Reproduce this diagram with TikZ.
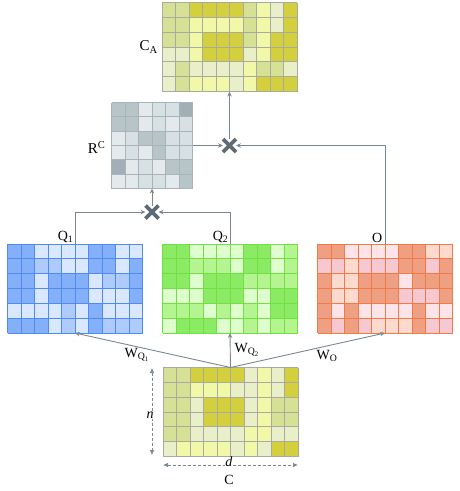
\documentclass[tikz,border=0pt]{standalone}
\usepackage{fontspec}
\setmainfont{Liberation Serif}
\usetikzlibrary{arrows.meta,shapes.misc}
\definecolor{Y1}{HTML}{D4CF3C}
\definecolor{Y2}{HTML}{D7E196}
\definecolor{Y3}{HTML}{F1F8A8}
\definecolor{Y4}{HTML}{E9EFC8}
\definecolor{YL}{HTML}{A9AAA0}
\definecolor{G1}{HTML}{A3AFB6}
\definecolor{G2}{HTML}{B7C5C8}
\definecolor{G3}{HTML}{D7E0E3}
\definecolor{G4}{HTML}{E4E9EC}
\definecolor{GL}{HTML}{A8B4BA}
\definecolor{B1}{HTML}{84B0FA}
\definecolor{B3}{HTML}{AECBFC}
\definecolor{B4}{HTML}{D9E8FF}
\definecolor{BL}{HTML}{4F8BF2}
\definecolor{K1}{HTML}{8CEB64}
\definecolor{K2}{HTML}{B4F591}
\definecolor{K3}{HTML}{DEFFCD}
\definecolor{KL}{HTML}{72E040}
\definecolor{O1}{HTML}{F0A082}
\definecolor{O2}{HTML}{F6C8D2}
\definecolor{O3}{HTML}{FDE4E9}
\definecolor{O4}{HTML}{FCDACD}
\definecolor{OL}{HTML}{F07A48}
\definecolor{arrc}{HTML}{7B8792}
\definecolor{crossc}{HTML}{5E6A74}
\newcommand\mkgrid[7]{% name, cols, rows, cellw, cellh, linecolor, rows of colours
  \begin{scope}[shift={(#1.north west)}]
    \foreach \rowlist [count=\r] in {#7} {
      \foreach \cc [count=\k] in \rowlist {
        \fill[\cc] ({(\k-1)*#4},{(\r-1)*#5}) rectangle ++(#4,#5);
      }
    }
    \foreach \i in {0,...,#2} {\draw[#6, line width=0.9pt] ({\i*#4},0) -- ({\i*#4},{#3*#5});}
    \foreach \j in {0,...,#3} {\draw[#6, line width=0.9pt] (0,{\j*#5}) -- ({#2*#4},{\j*#5});}
  \end{scope}}
\tikzset{
  mat/.style={inner sep=0pt, outer sep=0pt, minimum width=135pt, minimum height=89pt},
  lab/.style={inner sep=1pt, font=\fontsize{14}{16}\selectfont},
  biglab/.style={inner sep=1pt, font=\fontsize{15}{17}\selectfont},
  arr/.style={draw=arrc, line width=0.9pt, -{Stealth[length=5pt,width=4.5pt]}},
  mult/.style={cross out, draw=crossc, line width=3.6pt, minimum size=7pt, inner sep=0pt, outer sep=3pt},
  dim/.style={draw=arrc, line width=0.7pt, densely dashed, {Latex[length=5pt,width=4.5pt]}-{Latex[length=5pt,width=4.5pt]}},
}
\begin{document}
\begin{tikzpicture}[x=1pt,y=-1pt]
\useasboundingbox (0,0) rectangle (459,491);
% matrices
\node[mat] (CA) at (229.5,47) {};
\node[mat] (C) at (230.5,412) {};
\node[mat] (Q1) at (75,288.5) {};
\node[mat] (Q2) at (230,288.5) {};
\node[mat] (O) at (385,288.5) {};
\node[mat, minimum width=81pt, minimum height=86pt] (RC) at (152,145.5) {};
\mkgrid{CA}{10}{6}{13.5}{14.833}{YL}{{Y2,Y2,Y1,Y1,Y1,Y1,Y2,Y3,Y4,Y1},{Y2,Y2,Y3,Y3,Y3,Y3,Y2,Y3,Y4,Y1},{Y2,Y2,Y3,Y1,Y1,Y1,Y2,Y3,Y1,Y1},{Y4,Y4,Y3,Y1,Y1,Y1,Y4,Y3,Y1,Y1},{Y4,Y2,Y4,Y4,Y4,Y4,Y3,Y2,Y2,Y4},{Y4,Y2,Y3,Y3,Y3,Y4,Y3,Y1,Y1,Y1}}
\mkgrid{C}{10}{6}{13.5}{14.833}{YL}{{Y2,Y2,Y1,Y1,Y1,Y1,Y4,Y3,Y4,Y1},{Y2,Y2,Y3,Y3,Y3,Y4,Y4,Y3,Y4,Y1},{Y2,Y2,Y4,Y1,Y1,Y1,Y4,Y3,Y2,Y2},{Y2,Y2,Y4,Y1,Y1,Y1,Y4,Y3,Y2,Y2},{Y2,Y2,Y4,Y4,Y4,Y4,Y3,Y3,Y4,Y4},{Y4,Y3,Y3,Y3,Y3,Y4,Y3,Y4,Y1,Y1}}
\mkgrid{RC}{6}{6}{13.5}{14.333}{GL}{{G2,G2,G4,G3,G3,G1},{G2,G2,G4,G3,G4,G3},{G4,G3,G2,G2,G3,G3},{G4,G3,G4,G2,G3,G3},{G1,G4,G3,G4,G2,G2},{G4,G4,G3,G3,G4,G2}}
\mkgrid{Q1}{10}{6}{13.5}{14.833}{BL}{{B1,B1,B4,B4,B4,B4,B1,B1,B4,B4},{B1,B1,B3,B3,B4,B4,B1,B1,B4,B1},{B1,B1,B4,B1,B1,B1,B4,B3,B3,B1},{B1,B1,B4,B1,B1,B1,B4,B4,B4,B1},{B4,B4,B4,B4,B3,B4,B1,B4,B4,B4},{B1,B1,B1,B4,B3,B4,B1,B3,B3,B3}}
\mkgrid{Q2}{10}{6}{13.5}{14.833}{KL}{{K1,K1,K3,K3,K3,K3,K1,K1,K3,K2},{K1,K1,K2,K2,K2,K3,K1,K1,K3,K2},{K1,K1,K3,K1,K1,K1,K2,K2,K2,K2},{K3,K3,K3,K1,K1,K1,K3,K3,K1,K1},{K2,K2,K2,K3,K2,K3,K2,K3,K1,K1},{K3,K1,K1,K1,K3,K3,K2,K3,K2,K2}}
\mkgrid{O}{10}{6}{13.5}{14.833}{OL}{{O1,O1,O3,O3,O3,O3,O1,O1,O4,O4},{O2,O2,O4,O2,O2,O2,O1,O1,O2,O1},{O1,O4,O4,O1,O1,O1,O3,O1,O1,O1},{O1,O4,O4,O1,O1,O1,O2,O2,O2,O1},{O1,O3,O1,O3,O3,O3,O3,O1,O3,O3},{O1,O2,O1,O2,O4,O4,O4,O1,O2,O2}}
% multiplication marks
\node[mult] (x1) at (152,212) {};
\node[mult] (x2) at (229.5,145.5) {};
% labels
\node[biglab, anchor=east] (lCA) at ([xshift=-3pt]CA.west) {C\textsubscript{A}};
\node[biglab, anchor=east] (lRC) at ([xshift=-5pt,yshift=-2pt]RC.west) {R\textsuperscript{C}};
\node[lab, anchor=south east] (lQ1) at ([xshift=-0.5pt]Q1.north) {Q\textsubscript{1}};
\node[lab, anchor=south east] (lQ2) at ([xshift=-0.5pt]Q2.north) {Q\textsubscript{2}};
\node[lab, anchor=south east] (lO) at ([xshift=-1.5pt]O.north) {O};
% connectors
\draw[arr] (Q1.north) |- (x1);
\draw[arr] (Q2.north) |- (x1);
\draw[arr] (x1) -- (RC.south);
\draw[arr] (RC.east) -- (x2);
\draw[arr] (O.north) |- (x2);
\draw[arr] (x2) -- (CA.south);
\draw[arr] (C.north) -- (Q1.south);
\draw[arr] (C.north) -- (Q2.south);
\draw[arr] (C.north) -- (O.south);
\node[lab] (wq1) at (137,355) {W\textsubscript{Q\textsubscript{1}}};
\node[lab] (wq2) at (247,350) {W\textsubscript{Q\textsubscript{2}}};
\node[lab] (wo) at (327,356) {W\textsubscript{O}};
% dimensions
\coordinate (n1) at (152,368);
\coordinate (n2) at (152,455);
\coordinate (d1) at (163,465);
\coordinate (d2) at (298,465);
\draw[dim] (n1) -- (n2);
\draw[dim] (d1) -- (d2);
\node[lab, fill=white] (nl) at (150,415) {\textit{n}};
\node[lab, fill=white, inner sep=0.5pt] (dl) at (229,462) {\textit{d}};
\node[lab] (cl) at (229,480) {C};
\end{tikzpicture}
\end{document}
